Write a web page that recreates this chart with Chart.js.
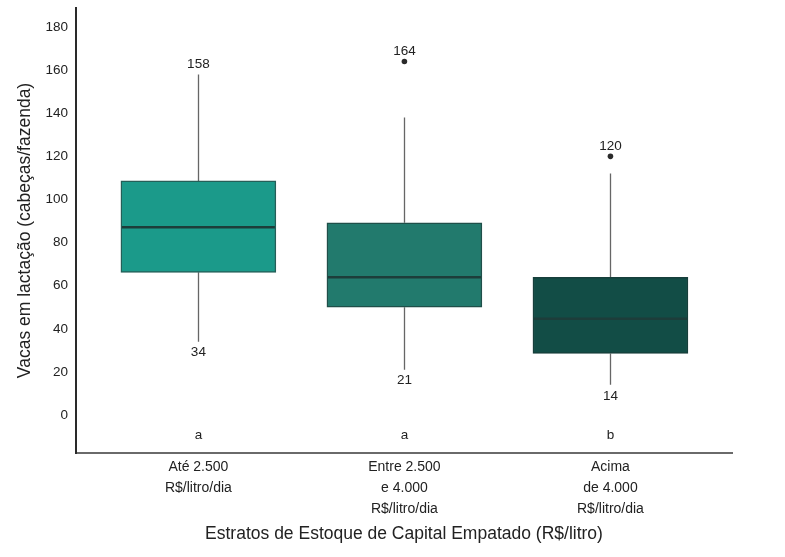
<!DOCTYPE html>
<html>
<head>
<meta charset="utf-8">
<script src="https://cdn.jsdelivr.net/npm/chart.js@4.4.0/dist/chart.umd.min.js"></script>
<style>
html,body{margin:0;padding:0;background:#fff;}
#wrap{width:785px;height:557px;}
</style>
</head>
<body>
<div id="wrap"><canvas id="c" width="785" height="557"></canvas></div>
<script>
const categories = [
  ['Até 2.500', 'R$/litro/dia'],
  ['Entre 2.500', 'e 4.000', 'R$/litro/dia'],
  ['Acima', 'de 4.000', 'R$/litro/dia']
];
const q1 = [66.2, 50, 28.6];
const q3 = [108.6, 89.2, 63.9];
const medians = [87.1, 63.9, 44.7];
const whiskerLow = [34, 21, 14];
const whiskerHigh = [158, 138, 112];
const outliers = [[], [164], [120]];
const groupLetters = ['a', 'a', 'b'];
const yTicks = [0, 20, 40, 60, 80, 100, 120, 140, 160, 180];

const boxColors = ['#1b9a8a', '#227a6d', '#124d46'];
const boxBorders = ['#245f58', '#1f4f49', '#173f3b'];
const FONT = "'Liberation Sans', Arial, sans-serif";

const boxPlugin = {
  id: 'boxExtras',
  beforeDatasetsDraw(chart) {
    const ctx = chart.ctx, x = chart.scales.x, y = chart.scales.y;
    ctx.save();
    ctx.strokeStyle = '#666';
    ctx.lineWidth = 1.3;
    categories.forEach((c, i) => {
      const px = Math.round(x.getPixelForValue(i)) + 0.5;
      ctx.beginPath();
      ctx.moveTo(px, y.getPixelForValue(whiskerHigh[i]));
      ctx.lineTo(px, y.getPixelForValue(q3[i]));
      ctx.moveTo(px, y.getPixelForValue(q1[i]));
      ctx.lineTo(px, y.getPixelForValue(whiskerLow[i]));
      ctx.stroke();
    });
    ctx.restore();
  },
  afterDatasetsDraw(chart) {
    const ctx = chart.ctx, x = chart.scales.x, y = chart.scales.y;
    const meta = chart.getDatasetMeta(0);
    ctx.save();
    categories.forEach((c, i) => {
      const bar = meta.data[i];
      const half = bar.width / 2;
      const px = x.getPixelForValue(i);
      ctx.strokeStyle = '#1d3d3a';
      ctx.lineWidth = 2.5;
      const my = y.getPixelForValue(medians[i]);
      ctx.beginPath();
      ctx.moveTo(px - half + 1, my);
      ctx.lineTo(px + half - 1, my);
      ctx.stroke();
      ctx.fillStyle = '#2a2a2a';
      outliers[i].forEach(v => {
        ctx.beginPath();
        ctx.arc(px, y.getPixelForValue(v), 2.8, 0, Math.PI * 2);
        ctx.fill();
      });
      ctx.fillStyle = '#222';
      ctx.font = '13.5px ' + FONT;
      ctx.textAlign = 'center';
      ctx.textBaseline = 'middle';
      const topVal = outliers[i].length ? Math.max(...outliers[i]) : whiskerHigh[i];
      ctx.fillText(String(topVal), px, y.getPixelForValue(topVal) - 10.5);
      ctx.fillText(String(whiskerLow[i]), px, y.getPixelForValue(whiskerLow[i]) + 11);
      ctx.fillText(groupLetters[i], px, y.getPixelForValue(-9.3));
    });
    ctx.restore();
  }
};

new Chart(document.getElementById('c'), {
  type: 'bar',
  data: {
    datasets: [{
      data: categories.map((c, i) => ({ x: i, y: [q1[i], q3[i]] })),
      backgroundColor: boxColors,
      borderColor: boxBorders,
      borderWidth: 1.5,
      borderSkipped: false,
      barThickness: 155
    }]
  },
  options: {
    responsive: false,
    animation: false,
    events: [],
    layout: { padding: { left: 0, top: 8, right: 53, bottom: 0 } },
    plugins: { legend: { display: false }, tooltip: { enabled: false } },
    scales: {
      x: {
        type: 'linear',
        offset: false,
        min: -0.594,
        max: 2.59,
        afterBuildTicks(s) { s.ticks = categories.map((c, i) => ({ value: i })); },
        afterFit(s) { s.height = 104; s.paddingLeft = 0; s.paddingRight = 0; },
        grid: { display: false, drawTicks: false, offset: false },
        border: { display: true, color: '#6a6a6a', width: 2 },
        ticks: {
          callback: (v) => categories[v],
          color: '#222',
          font: { family: FONT, size: 14, lineHeight: 1.5 },
          padding: 4,
          maxRotation: 0,
          autoSkip: false
        },
        title: {
          display: true,
          text: 'Estratos de Estoque de Capital Empatado (R$/litro)',
          color: '#222',
          font: { family: FONT, size: 17.5 },
          padding: { top: 0, bottom: 12 }
        }
      },
      y: {
        min: -17.6,
        max: 188.8,
        afterBuildTicks(s) { s.ticks = yTicks.map(v => ({ value: v })); },
        afterFit(s) { s.width = 76; s.paddingTop = 0; s.paddingBottom = 0; },
        grid: { display: false, drawTicks: false },
        border: { display: true, color: '#2a2a2a', width: 2 },
        ticks: {
          color: '#222',
          font: { family: FONT, size: 13.5 },
          padding: 8
        },
        title: {
          display: true,
          text: 'Vacas em lactação (cabeças/fazenda)',
          color: '#222',
          font: { family: FONT, size: 17.5 },
          padding: { top: 15, bottom: 0 }
        }
      }
    }
  },
  plugins: [boxPlugin]
});
</script>
</body>
</html>
